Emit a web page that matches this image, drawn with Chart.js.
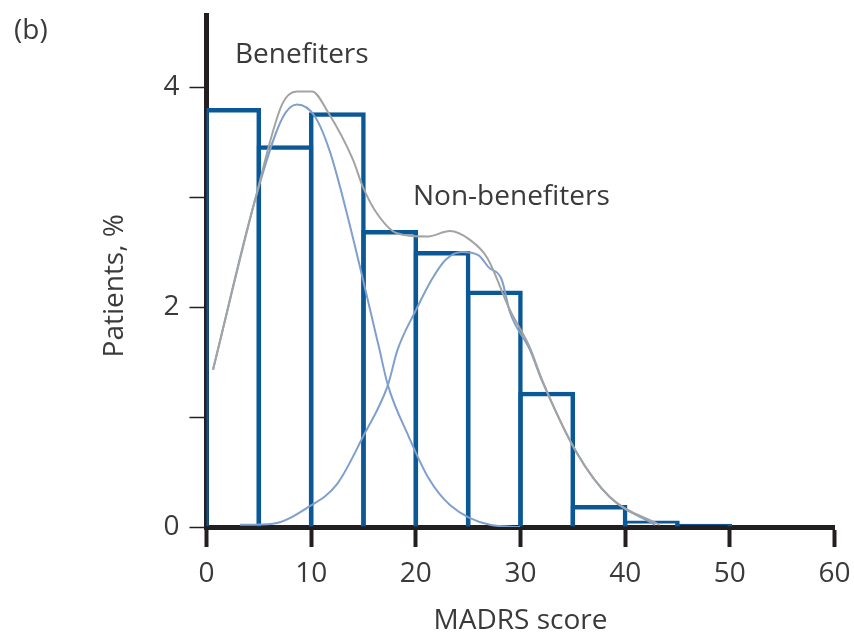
<!DOCTYPE html>
<html>
<head>
<meta charset="utf-8">
<script src="https://cdn.jsdelivr.net/npm/chart.js@4.4.1/dist/chart.umd.min.js"></script>
<style>
  html, body { margin: 0; padding: 0; background: #fff; }
  #wrap { width: 854px; height: 633px; }
</style>
</head>
<body>
<div id="wrap"><canvas id="histChart" width="854" height="633"></canvas></div>
<script>
// histogram: bin centres (MADRS score, bins of width 5) and bar heights (% of patients)
var binCentres = [2.5, 7.5, 12.5, 17.5, 22.5, 27.5, 32.5, 37.5, 42.5, 47.5];
var binHeights = [3.81, 3.47, 3.77, 2.70, 2.51, 2.15, 1.23, 0.20, 0.06, 0.03];

// fitted curve for all patients (grey)
var totalX = [0.62, 4.63, 7.21, 8.65, 10.08, 11.61, 13.99, 14.95, 16.29, 18.2, 21.07, 23.26, 25.17, 26.8, 29.0, 30.9, 32.05, 35.4, 38.55, 43.3];
var totalY = [1.43, 2.97, 3.84, 3.96, 3.96, 3.77, 3.34, 3.09, 2.85, 2.67, 2.64, 2.69, 2.61, 2.45, 1.97, 1.63, 1.34, 0.67, 0.27, 0.02];

// benefiters curve (light blue)
var benefitersX = [0.62, 4.63, 7.21, 8.65, 10.37, 11.8, 13.52, 16.46, 17.33, 19.33, 21.24, 23.26, 27.08, 29.95];
var benefitersY = [1.43, 2.97, 3.71, 3.84, 3.73, 3.41, 2.81, 1.64, 1.29, 0.82, 0.44, 0.20, 0.02, 0.0];

// non-benefiters curve (light blue)
var nonBenefitersX = [3.2, 6.35, 9.7, 12.47, 14.95, 17.33, 18.25, 20.0, 21.52, 22.85, 24.38, 26.0, 26.96, 28.2, 29.0, 30.9, 32.05, 35.4, 38.55, 42.85];
var nonBenefitersY = [0.02, 0.03, 0.18, 0.39, 0.82, 1.29, 1.61, 1.97, 2.25, 2.43, 2.50, 2.47, 2.36, 2.25, 1.95, 1.61, 1.33, 0.67, 0.27, 0.02];

// curve labels, placed in data units (left edge, baseline)
var curveLabels = ["Benefiters", "Non-benefiters"];
var curveLabelX = [2.72, 19.73];
var curveLabelY = [4.22, 2.93];

var textColour = "#3a3a3a";
var axisColour = "#231f20";
var fontFamily = "'Open Sans', 'Noto Sans', sans-serif";
var fontSize = 28;

function toPoints(xs, ys) {
  var pts = [];
  for (var i = 0; i < xs.length; i++) {
    pts.push({ x: xs[i], y: ys[i] });
  }
  return pts;
}

// draws the curve names and the panel letter
var labelPlugin = {
  id: "curveLabels",
  afterDatasetsDraw: function (chart) {
    var ctx = chart.ctx;
    var xs = chart.scales.x;
    var ys = chart.scales.y;
    ctx.save();
    ctx.fillStyle = textColour;
    ctx.font = fontSize + "px " + fontFamily;
    ctx.textAlign = "left";
    ctx.textBaseline = "alphabetic";
    for (var i = 0; i < curveLabels.length; i++) {
      ctx.fillText(curveLabels[i], xs.getPixelForValue(curveLabelX[i]), ys.getPixelForValue(curveLabelY[i]));
    }
    ctx.textBaseline = "middle";
    ctx.fillText("(b)", 14, 31);
    ctx.restore();
  }
};

var ctx = document.getElementById("histChart").getContext("2d");

var myChart = new Chart(ctx, {
  type: "bar",
  data: {
    datasets: [
      {
        type: "line",
        label: "All",
        data: toPoints(totalX, totalY),
        borderColor: "#a3a3a3",
        borderWidth: 2,
        pointRadius: 0,
        cubicInterpolationMode: "monotone",
        fill: false,
        order: 0
      },
      {
        type: "line",
        label: "Benefiters",
        data: toPoints(benefitersX, benefitersY),
        borderColor: "#7f9fcc",
        borderWidth: 2,
        pointRadius: 0,
        cubicInterpolationMode: "monotone",
        fill: false,
        order: 1
      },
      {
        type: "line",
        label: "Non-benefiters",
        data: toPoints(nonBenefitersX, nonBenefitersY),
        borderColor: "#7f9fcc",
        borderWidth: 2,
        pointRadius: 0,
        cubicInterpolationMode: "monotone",
        fill: false,
        order: 1
      },
      {
        type: "bar",
        label: "Patients",
        data: toPoints(binCentres, binHeights),
        backgroundColor: "rgba(0,0,0,0)",
        borderColor: "#0b5896",
        borderWidth: 4.5,
        barPercentage: 1.086,
        categoryPercentage: 1,
        order: 2
      }
    ]
  },
  options: {
    responsive: false,
    animation: false,
    layout: { padding: { top: 15.5, right: 19.5, bottom: 0, left: 0 } },
    plugins: {
      legend: { display: false },
      tooltip: { enabled: false }
    },
    scales: {
      x: {
        type: "linear",
        min: 0,
        max: 60,
        offset: false,
        z: 1,
        afterFit: function (scale) {
          scale.height = 106;
          scale.paddingLeft = 0;
          scale.paddingRight = 0;
        },
        grid: {
          drawOnChartArea: false,
          drawTicks: true,
          tickLength: 20,
          tickWidth: 4,
          tickColor: axisColour,
          offset: false
        },
        border: { display: true, color: axisColour, width: 5 },
        ticks: {
          stepSize: 10,
          autoSkip: false,
          maxRotation: 0,
          padding: 10,
          color: textColour,
          font: { family: fontFamily, size: fontSize }
        },
        title: {
          display: true,
          text: "MADRS score",
          color: textColour,
          font: { family: fontFamily, size: fontSize },
          padding: { top: 0, bottom: -5 }
        }
      },
      y: {
        min: 0,
        max: 4.65,
        z: 1,
        afterFit: function (scale) {
          scale.width = 206.5;
          scale.paddingTop = 0;
          scale.paddingBottom = 0;
        },
        grid: {
          drawOnChartArea: false,
          drawTicks: true,
          tickLength: 17,
          tickWidth: 1.5,
          tickColor: axisColour
        },
        border: { display: true, color: axisColour, width: 5 },
        ticks: {
          stepSize: 1,
          includeBounds: false,
          padding: 10,
          color: textColour,
          font: { family: fontFamily, size: fontSize },
          callback: function (value) {
            return value % 2 === 0 ? value : "";
          }
        },
        title: {
          display: true,
          text: "Patients, %\u00a0\u00a0\u00a0\u00a0",
          color: textColour,
          font: { family: fontFamily, size: fontSize },
          padding: { top: 98, bottom: 0 }
        }
      }
    }
  },
  plugins: [labelPlugin]
});
</script>
</body>
</html>
